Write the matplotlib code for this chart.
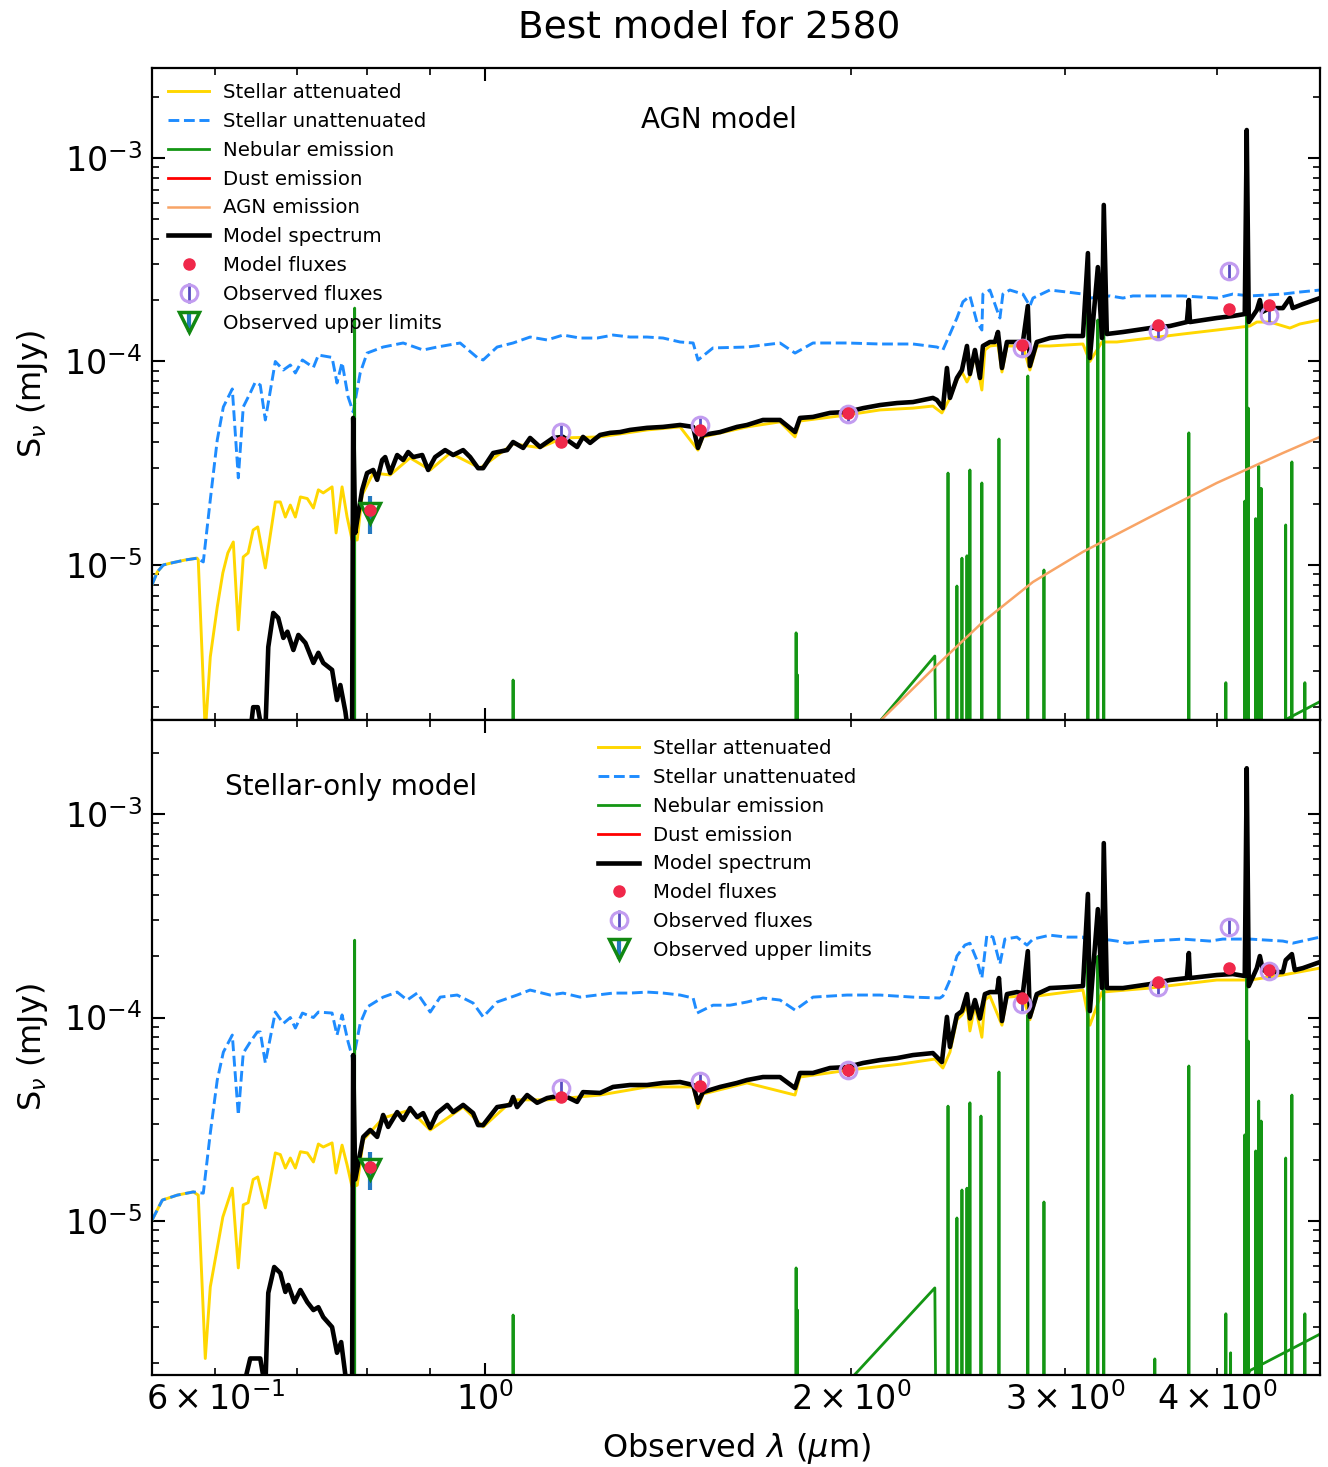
import matplotlib
matplotlib.use("Agg")
import matplotlib.pyplot as plt

plt.rcParams['font.family'] = ['DejaVu Sans']
plt.rcParams['mathtext.fontset'] = 'dejavusans'

TITLE = "Best model for 2580"
XLABEL = r"Observed $\lambda$ ($\mu$m)"
YLABEL = r"S$_{\nu}$ (mJy)"
PANEL_LABELS = ["AGN model", "Stellar-only model"]

# ---------------------------------------------------------------- data
# wavelengths in micron, fluxes in mJy

# ---- top panel (AGN model)
top_att_lam = [0.532, 0.5374, 0.5435, 0.5508, 0.5665, 0.5795, 0.5807, 0.5885, 0.5941, 0.602, 0.6084, 0.6142, 0.6206,
               0.6265, 0.6324, 0.6383, 0.6444, 0.65, 0.6594, 0.672, 0.6784, 0.6849, 0.6914, 0.698, 0.7047, 0.714, 0.7223,
               0.7291, 0.7359, 0.7483, 0.754, 0.7626, 0.7699, 0.7772, 0.7848, 0.7922, 0.8089, 0.8354, 0.8675, 0.9012,
               0.9359, 0.9906, 1.0544, 1.1096, 1.159, 1.2433, 1.359, 1.4467, 1.4966, 1.511, 1.6423, 1.7483, 1.7987,
               1.8155, 1.9851, 2.1131, 2.2491, 2.3356, 2.3758, 2.4123, 2.4444, 2.4678, 2.4913, 2.5053, 2.5293, 2.5627,
               2.5775, 2.6021, 2.6421, 2.6621, 2.6874, 2.7698, 2.8067, 2.8439, 2.9149, 3.1036, 3.1446, 3.2173, 3.3098,
               3.5237, 3.7497, 3.9994, 4.258, 4.3144, 4.4232, 4.5936, 4.6812, 4.8627]
top_att_flux = [7.98e-6, 9.24e-6, 1e-5, 1.02e-5, 1.058e-5, 1.08e-5, 1.06e-5, 1.5e-6, 3.53e-6, 6.22e-6, 9.14e-6, 1.146e-5,
                1.297e-5, 4.8e-6, 1.095e-5, 1.146e-5, 1.486e-5, 1.538e-5, 9.67e-6, 2.04e-5, 2.04e-5, 1.72e-5, 1.97e-5,
                1.72e-5, 2.16e-5, 2.12e-5, 1.905e-5, 2.34e-5, 2.26e-5, 2.42e-5, 1.437e-5, 2.42e-5, 1.72e-5, 1.327e-5,
                1.327e-5, 2.21e-5, 2.83e-5, 2.77e-5, 3.36e-5, 2.93e-5, 3.55e-5, 2.99e-5, 3.94e-5, 3.77e-5, 4.21e-5,
                4.26e-5, 4.61e-5, 4.77e-5, 3.67e-5, 4.26e-5, 4.77e-5, 5.05e-5, 4.26e-5, 5.1e-5, 5.46e-5, 5.78e-5, 5.9e-5,
                6.04e-5, 5.59e-5, 6.62e-5, 8.11e-5, 8.88e-5, 7.93e-5, 8.49e-5, 1.076e-4, 7.24e-5, 1.139e-4, 1.192e-4,
                1.205e-4, 8.88e-5, 1.192e-4, 1.192e-4, 9.08e-5, 1.192e-4, 1.192e-4, 1.219e-4, 1e-4, 1.247e-4, 1.247e-4,
                1.304e-4, 1.365e-4, 1.428e-4, 1.494e-4, 1.563e-4, 1.563e-4, 1.46e-4, 1.529e-4, 1.6e-4]

top_unatt_lam = [0.532, 0.5374, 0.5435, 0.5508, 0.5665, 0.5795, 0.5863, 0.5941, 0.602, 0.609, 0.6194, 0.6265, 0.6324,
                 0.6408, 0.647, 0.6531, 0.6594, 0.672, 0.6823, 0.6914, 0.698, 0.7074, 0.7223, 0.7291, 0.7483, 0.7553,
                 0.7626, 0.7714, 0.7788, 0.7892, 0.7996, 0.8243, 0.8562, 0.8892, 0.9131, 0.9537, 0.985, 0.9962, 1.023,
                 1.0544, 1.0889, 1.1246, 1.159, 1.1971, 1.2362, 1.2743, 1.3158, 1.359, 1.4009, 1.4467, 1.483, 1.4966,
                 1.5399, 1.6423, 1.7483, 1.7987, 1.8609, 1.9851, 2.1131, 2.2491, 2.3533, 2.3803, 2.4123, 2.4444, 2.4724,
                 2.5053, 2.5387, 2.5627, 2.5678, 2.6021, 2.6372, 2.6518, 2.6669, 2.7024, 2.7698, 2.8067, 2.8232, 2.9149,
                 3.0107, 3.1036, 3.1446, 3.2665, 3.3478, 3.4115, 3.7497, 3.9994, 4.1228, 4.258, 4.5327, 4.6812, 4.8627]
top_unatt_flux = [7.98e-6, 9.24e-6, 1e-5, 1.02e-5, 1.058e-5, 1.08e-5, 1.035e-5, 2.09e-5, 4.115e-5, 5.98e-5, 7.33e-5,
                  2.68e-5, 5.98e-5, 7e-5, 7.92e-5, 7.66e-5, 5.16e-5, 1e-4, 9.08e-5, 9.61e-5, 8.78e-5, 1.017e-4, 9.35e-5,
                  1.076e-4, 1.047e-4, 7.84e-5, 9.89e-5, 6.69e-5, 5.65e-5, 8.78e-5, 1.1e-4, 1.178e-4, 1.233e-4, 1.139e-4,
                  1.178e-4, 1.233e-4, 1.047e-4, 1.017e-4, 1.178e-4, 1.233e-4, 1.319e-4, 1.276e-4, 1.349e-4, 1.304e-4,
                  1.304e-4, 1.349e-4, 1.319e-4, 1.319e-4, 1.304e-4, 1.247e-4, 1.233e-4, 1.017e-4, 1.166e-4, 1.178e-4,
                  1.233e-4, 1.1e-4, 1.233e-4, 1.233e-4, 1.219e-4, 1.219e-4, 1.178e-4, 1.139e-4, 1.365e-4, 1.636e-4,
                  1.964e-4, 2.1e-4, 1.563e-4, 1.428e-4, 2.145e-4, 2.245e-4, 1.79e-4, 1.636e-4, 2.145e-4, 2.245e-4,
                  2.145e-4, 1.874e-4, 2.05e-4, 2.245e-4, 2.195e-4, 2.145e-4, 2.05e-4, 2.1e-4, 2.05e-4, 2.1e-4, 2.1e-4,
                  2.05e-4, 2.145e-4, 2.1e-4, 2.145e-4, 2.195e-4, 2.245e-4]

top_model_lam = [0.6408, 0.6444, 0.65, 0.6556, 0.6594, 0.6631, 0.6694, 0.6757, 0.6823, 0.6876, 0.6954, 0.702, 0.7114,
                 0.7223, 0.7291, 0.7359, 0.7483, 0.7553, 0.7601, 0.7674, 0.7714, 0.7772, 0.7788, 0.7818, 0.7848, 0.7922,
                 0.7996, 0.8089, 0.815, 0.8228, 0.8275, 0.8354, 0.8465, 0.8562, 0.8643, 0.8727, 0.8876, 0.8977, 0.9096,
                 0.927, 0.9412, 0.9592, 0.972, 0.9868, 0.9962, 1.0153, 1.0425, 1.0544, 1.0747, 1.0889, 1.1096, 1.1374,
                 1.159, 1.1903, 1.2037, 1.22, 1.2433, 1.2671, 1.2912, 1.3158, 1.359, 1.4009, 1.4467, 1.483, 1.4966,
                 1.511, 1.5607, 1.6115, 1.6423, 1.6927, 1.7483, 1.7987, 1.8155, 1.8609, 1.922, 1.9851, 2.0464, 2.1131,
                 2.1822, 2.2491, 2.3356, 2.3533, 2.3803, 2.3986, 2.4123, 2.4444, 2.4678, 2.4913, 2.5053, 2.5293, 2.5534,
                 2.5678, 2.6021, 2.627, 2.6421, 2.6621, 2.6874, 2.7384, 2.7698, 2.7958, 2.8067, 2.8439, 2.9149, 3.0107,
                 3.1036, 3.1329, 3.1446, 3.1924, 3.2173, 3.2285, 3.2471, 3.3478, 3.5237, 3.6595, 3.7787, 3.7931, 3.8013,
                 3.9994, 4.1228, 4.217, 4.2327, 4.2492, 4.3144, 4.3393, 4.356, 4.4232, 4.5327, 4.5936, 4.6178, 4.7082,
                 4.8627]
top_model_flux = [1.5e-6, 2e-6, 2e-6, 1.5e-6, 1.5e-6, 3.95e-6, 5.81e-6, 5.49e-6, 4.38e-6, 4.7e-6, 3.82e-6, 4.53e-6,
                  4.14e-6, 3.3e-6, 3.7e-6, 3.3e-6, 3.05e-6, 2.17e-6, 2.57e-6, 1.9e-6, 1.5e-6, 1.5e-6, 5.28e-5, 1.437e-5,
                  1.665e-5, 2.34e-5, 2.83e-5, 2.93e-5, 2.62e-5, 3.28e-5, 3.39e-5, 2.83e-5, 3.47e-5, 3.28e-5, 3.59e-5,
                  3.39e-5, 3.47e-5, 2.93e-5, 3.39e-5, 3.67e-5, 3.47e-5, 3.67e-5, 3.39e-5, 2.99e-5, 2.99e-5, 3.55e-5,
                  3.67e-5, 4.02e-5, 3.76e-5, 4.21e-5, 3.8e-5, 4.21e-5, 4.26e-5, 3.8e-5, 4.26e-5, 3.98e-5, 4.355e-5,
                  4.46e-5, 4.5e-5, 4.61e-5, 4.72e-5, 4.77e-5, 4.875e-5, 4.77e-5, 3.76e-5, 4.355e-5, 4.5e-5, 4.77e-5,
                  4.875e-5, 5.16e-5, 5.16e-5, 4.5e-5, 5.28e-5, 5.34e-5, 5.59e-5, 5.65e-5, 5.9e-5, 6.11e-5, 6.25e-5,
                  6.32e-5, 6.62e-5, 6.47e-5, 5.9e-5, 9.29e-5, 6.62e-5, 8.3e-5, 9.08e-5, 1.192e-4, 8.68e-5, 1.139e-4,
                  8.3e-5, 1.192e-4, 1.247e-4, 1.247e-4, 1.396e-4, 9.29e-5, 1.247e-4, 1.247e-4, 1.247e-4, 1.874e-4,
                  9.5e-5, 1.247e-4, 1.304e-4, 1.334e-4, 1.334e-4, 3.41e-4, 1.04e-4, 2.91e-4, 1.304e-4, 5.88e-4, 1.365e-4,
                  1.396e-4, 1.46e-4, 1.494e-4, 1.563e-4, 2.005e-4, 1.563e-4, 1.636e-4, 1.673e-4, 1.711e-4, 1.373e-3,
                  1.563e-4, 1.79e-4, 2.005e-4, 1.75e-4, 1.83e-4, 1.83e-4, 2.05e-4, 1.83e-4, 1.915e-4, 2.05e-4]

top_agn_lam = [2.0346, 2.1131, 2.3356, 2.5678, 2.8232, 3.1036, 3.5237, 3.9994, 4.5327, 4.8627]
top_agn_flux = [1.2e-6, 1.71e-6, 3.08e-6, 5.25e-6, 8.25e-6, 1.16e-5, 1.72e-5, 2.53e-5, 3.55e-5, 4.26e-5]

top_nebcont_lam = [2.0346, 2.1131, 2.3442, 2.3486, 4.45, 4.5327, 4.8627]
top_nebcont_flux = [1.3e-6, 1.71e-6, 3.57e-6, 1.2e-6, 1.2e-6, 1.71e-6, 2.13e-6]

top_line_lam = [0.781, 1.0544, 1.8024, 1.8075, 2.4035, 2.4444, 2.4678, 2.4913, 2.5053, 2.5627, 2.647, 2.7958, 2.8826,
                3.1329, 3.1924, 3.2285, 3.7931, 4.0686, 4.217, 4.2327, 4.2454, 4.3053, 4.3301, 4.35, 4.557, 4.6108,
                4.7256]
top_line_peak = [1.83e-4, 2.72e-6, 4.64e-6, 2.88e-6, 2.83e-5, 7.88e-6, 1.08e-5, 1.11e-5, 2.93e-5, 2.53e-5, 4.16e-5,
                 8.49e-5, 9.45e-6, 2.0e-4, 1.6e-4, 4.5e-4, 4.46e-5, 2.64e-6, 2.06e-5, 1.2e-3, 5.9e-5, 1.69e-5, 3.05e-5,
                 2.38e-5, 1.573e-5, 3.21e-5, 2.64e-6]

top_modflux = [1.865e-5, 4.02e-5, 4.61e-5, 5.59e-5, 1.205e-4, 1.511e-4, 1.81e-4, 1.896e-4]

# ---- bottom panel (stellar-only model)
bot_att_lam = [0.532, 0.5425, 0.558, 0.5753, 0.5807, 0.5885, 0.5941, 0.6084, 0.6194, 0.6265, 0.6324, 0.6383, 0.6444,
               0.65, 0.6594, 0.672, 0.6784, 0.6849, 0.6914, 0.698, 0.7047, 0.714, 0.7223, 0.7291, 0.7359, 0.7483, 0.754,
               0.7626, 0.7699, 0.7772, 0.7848, 0.7938, 0.8243, 0.8675, 0.9012, 0.9592, 0.9962, 1.0544, 1.1246, 1.2433,
               1.359, 1.483, 1.4966, 1.511, 1.6423, 1.7987, 1.8155, 1.9965, 2.1945, 2.3442, 2.3803, 2.4123, 2.4444,
               2.4678, 2.4913, 2.5053, 2.5293, 2.5627, 2.5775, 2.6021, 2.6621, 2.6874, 2.7698, 2.8067, 2.8439, 3.1036,
               3.1446, 3.2173, 3.5237, 3.9994, 4.258, 4.5327, 4.8627]
bot_att_flux = [1.01e-5, 1.267e-5, 1.34e-5, 1.39e-5, 1.34e-5, 2.11e-6, 4.74e-6, 1.046e-5, 1.45e-5, 5.88e-6, 1.2e-5,
                1.23e-5, 1.6e-5, 1.646e-5, 1.16e-5, 2.16e-5, 2.12e-5, 1.82e-5, 2.04e-5, 1.82e-5, 2.19e-5, 2.16e-5,
                1.95e-5, 2.39e-5, 2.31e-5, 2.42e-5, 1.72e-5, 2.36e-5, 1.885e-5, 1.47e-5, 1.5e-5, 2.5e-5, 3.21e-5,
                3.51e-5, 2.8e-5, 3.63e-5, 2.9e-5, 3.94e-5, 3.94e-5, 4.16e-5, 4.56e-5, 4.56e-5, 3.59e-5, 4.21e-5, 4.77e-5,
                4.16e-5, 5.1e-5, 5.53e-5, 5.9e-5, 6.25e-5, 5.65e-5, 6.76e-5, 9.75e-5, 1.03e-4, 1.15e-4, 8.59e-5, 1.15e-4,
                8.0e-5, 1.219e-4, 1.276e-4, 9.17e-5, 1.26e-4, 1.276e-4, 9.75e-5, 1.276e-4, 1.365e-4, 9.17e-5, 1.334e-4,
                1.396e-4, 1.529e-4, 1.529e-4, 1.618e-4, 1.75e-4]

bot_unatt_lam = [0.532, 0.5425, 0.558, 0.5753, 0.5863, 0.5941, 0.602, 0.609, 0.6194, 0.6265, 0.6324, 0.6408, 0.6494,
                 0.6531, 0.6594, 0.672, 0.6823, 0.6914, 0.698, 0.7074, 0.7223, 0.7291, 0.7483, 0.7553, 0.7626, 0.7714,
                 0.7788, 0.7892, 0.7996, 0.8243, 0.8465, 0.8627, 0.8792, 0.9012, 0.9184, 0.9484, 0.9775, 0.9962, 1.023,
                 1.0624, 1.0889, 1.131, 1.159, 1.1971, 1.2362, 1.2743, 1.3158, 1.359, 1.4009, 1.4467, 1.483, 1.494,
                 1.5399, 1.5905, 1.6423, 1.6927, 1.7483, 1.7987, 1.8609, 1.9851, 2.1131, 2.2491, 2.367, 2.3803, 2.4123,
                 2.4444, 2.4816, 2.5053, 2.5387, 2.5627, 2.5871, 2.6169, 2.6518, 2.677, 2.7384, 2.7912, 2.8232, 2.9149,
                 3.0107, 3.1036, 3.1446, 3.2234, 3.3098, 3.3729, 3.5237, 3.7497, 3.9465, 4.0453, 4.258, 4.5327, 4.6178,
                 4.8627]
bot_unatt_flux = [1.01e-5, 1.267e-5, 1.34e-5, 1.39e-5, 1.37e-5, 2.7e-5, 4.93e-5, 6.76e-5, 8.2e-5, 3.32e-5, 6.69e-5,
                  7.58e-5, 8.49e-5, 8.49e-5, 5.98e-5, 1.064e-4, 9.35e-5, 1e-4, 8.88e-5, 1.052e-4, 1e-4, 1.064e-4,
                  1.052e-4, 8.2e-5, 1.03e-4, 7.58e-5, 6.18e-5, 9.35e-5, 1.126e-4, 1.26e-4, 1.334e-4, 1.219e-4, 1.319e-4,
                  1.064e-4, 1.26e-4, 1.29e-4, 1.178e-4, 1.007e-4, 1.192e-4, 1.29e-4, 1.365e-4, 1.29e-4, 1.319e-4,
                  1.26e-4, 1.29e-4, 1.319e-4, 1.319e-4, 1.334e-4, 1.319e-4, 1.29e-4, 1.247e-4, 1.052e-4, 1.15e-4,
                  1.15e-4, 1.192e-4, 1.247e-4, 1.219e-4, 1.088e-4, 1.26e-4, 1.29e-4, 1.29e-4, 1.26e-4, 1.247e-4,
                  1.276e-4, 1.529e-4, 2.005e-4, 2.27e-4, 2.32e-4, 1.915e-4, 1.563e-4, 2.54e-4, 2.485e-4, 1.83e-4,
                  2.43e-4, 2.485e-4, 2.27e-4, 2.43e-4, 2.54e-4, 2.485e-4, 2.485e-4, 2.27e-4, 2.43e-4, 2.376e-4, 2.32e-4,
                  2.376e-4, 2.43e-4, 2.376e-4, 2.43e-4, 2.43e-4, 2.376e-4, 2.32e-4, 2.485e-4]

bot_model_lam = [0.6265, 0.6408, 0.647, 0.6531, 0.6594, 0.6631, 0.6706, 0.6784, 0.6849, 0.6887, 0.6967, 0.7047, 0.714,
                 0.7223, 0.7291, 0.7359, 0.7483, 0.7553, 0.7613, 0.7699, 0.7772, 0.7788, 0.7818, 0.7938, 0.8044, 0.815,
                 0.8243, 0.8322, 0.8465, 0.8562, 0.8675, 0.8792, 0.8892, 0.9012, 0.9131, 0.9307, 0.9412, 0.9592, 0.9775,
                 0.9868, 0.9962, 1.023, 1.0485, 1.0544, 1.0624, 1.0828, 1.1035, 1.1246, 1.159, 1.1903, 1.2037, 1.2433,
                 1.2743, 1.3158, 1.359, 1.4009, 1.4467, 1.483, 1.4966, 1.511, 1.5607, 1.6115, 1.6423, 1.6927, 1.7483,
                 1.7987, 1.8155, 1.8609, 1.922, 1.9851, 2.0464, 2.1131, 2.1822, 2.2491, 2.3356, 2.3758, 2.3986, 2.4123,
                 2.4444, 2.4678, 2.4913, 2.5053, 2.5293, 2.5534, 2.5775, 2.6021, 2.6372, 2.647, 2.6621, 2.6874, 2.7384,
                 2.7698, 2.7958, 2.8067, 2.8439, 2.9149, 3.0107, 3.1036, 3.1329, 3.1446, 3.1924, 3.2173, 3.2285, 3.2471,
                 3.3478, 3.5237, 3.6595, 3.7787, 3.7931, 3.8013, 3.9994, 4.1228, 4.217, 4.2327, 4.2492, 4.3144, 4.3393,
                 4.364, 4.4232, 4.5327, 4.557, 4.6108, 4.636, 4.7082, 4.8627]
bot_model_flux = [1.2e-6, 2.11e-6, 2.11e-6, 2.11e-6, 1.5e-6, 4.43e-6, 5.94e-6, 5.55e-6, 4.48e-6, 4.85e-6, 3.99e-6,
                  4.58e-6, 3.99e-6, 3.65e-6, 3.77e-6, 3.37e-6, 3.01e-6, 2.25e-6, 2.54e-6, 1.5e-6, 1.5e-6, 6.54e-5, 1.6e-5,
                  2.59e-5, 2.8e-5, 2.59e-5, 3.32e-5, 2.9e-5, 3.43e-5, 3.14e-5, 3.59e-5, 3.24e-5, 3.39e-5, 2.87e-5,
                  3.39e-5, 3.72e-5, 3.43e-5, 3.72e-5, 3.39e-5, 2.96e-5, 2.96e-5, 3.63e-5, 3.72e-5, 4.07e-5, 3.63e-5,
                  4.16e-5, 3.81e-5, 4.02e-5, 4.16e-5, 3.85e-5, 4.3e-5, 4.26e-5, 4.56e-5, 4.66e-5, 4.66e-5, 4.77e-5,
                  4.82e-5, 4.66e-5, 3.81e-5, 4.3e-5, 4.56e-5, 4.77e-5, 4.93e-5, 5.1e-5, 5.1e-5, 4.5e-5, 5.34e-5, 5.34e-5,
                  5.65e-5, 5.71e-5, 5.98e-5, 6.18e-5, 6.32e-5, 6.54e-5, 6.69e-5, 6.04e-5, 1.007e-4, 7.17e-5, 1.03e-4,
                  1.076e-4, 1.304e-4, 9.89e-5, 1.219e-4, 9.89e-5, 1.304e-4, 1.334e-4, 1.334e-4, 1.563e-4, 9.61e-5,
                  1.304e-4, 1.334e-4, 1.319e-4, 2.12e-4, 1.007e-4, 1.304e-4, 1.396e-4, 1.41e-4, 1.428e-4, 4.05e-4,
                  1.076e-4, 3.41e-4, 1.396e-4, 7.2e-4, 1.396e-4, 1.396e-4, 1.46e-4, 1.529e-4, 1.563e-4, 2.075e-4,
                  1.563e-4, 1.618e-4, 1.636e-4, 1.6e-4, 1.68e-3, 1.428e-4, 1.75e-4, 2.005e-4, 1.711e-4, 1.673e-4,
                  1.673e-4, 1.915e-4, 2.05e-4, 1.711e-4, 1.75e-4, 1.874e-4]

bot_nebcont_lam = [1.9965, 2.3442, 2.3486, 4.2, 4.258, 4.8627]
bot_nebcont_flux = [1.66e-6, 4.69e-6, 1.2e-6, 1.5e-6, 1.84e-6, 2.78e-6]

bot_line_lam = [0.781, 1.0544, 1.8024, 1.8075, 2.4035, 2.4444, 2.4678, 2.4913, 2.5053, 2.5583, 2.647, 2.7958, 2.8826,
                3.1329, 3.1924, 3.2285, 3.5563, 3.7931, 4.0686, 4.1055, 4.217, 4.2327, 4.2454, 4.3053, 4.3301, 4.35,
                4.557, 4.6108, 4.7256]
bot_line_peak = [2.4e-4, 3.45e-6, 5.88e-6, 3.65e-6, 3.67e-5, 1.035e-5, 1.42e-5, 1.45e-5, 3.81e-5, 3.28e-5, 5.4e-5,
                 1.03e-4, 1.24e-5, 2.6e-4, 2.0e-4, 5.8e-4, 2.1e-6, 5.78e-5, 3.5e-6, 2.25e-6, 2.65e-5, 1.5e-3, 7.66e-5,
                 2.21e-5, 3.89e-5, 3.1e-5, 2.04e-5, 4.16e-5, 3.5e-6]

bot_modflux = [1.84e-5, 4.07e-5, 4.61e-5, 5.53e-5, 1.25e-4, 1.49e-4, 1.75e-4, 1.71e-4]

# ---- photometry (same observations in both panels)
filt_lam = [0.8044, 1.1548, 1.5025, 1.9888, 2.7647, 3.5772, 4.0921, 4.4134]
obs_lam = [1.1548, 1.5025, 1.9888, 2.7647, 3.5772, 4.0921, 4.4134]
obs_flux = [4.5e-5, 4.875e-5, 5.53e-5, 1.165e-4, 1.41e-4, 2.786e-4, 1.693e-4]
obs_err = [3.5e-6, 3.8e-6, 4.3e-6, 9e-6, 1.1e-5, 2.2e-5, 1.3e-5]
ul_lam = [0.8044]
ul_flux = [1.8e-5]
ul_err = [3.8e-6]

# ---------------------------------------------------------------- style
C_ATT = '#FFD700'
C_UNATT = '#1E8CFF'
C_NEB = '#149614'
C_DUST = '#FF0000'
C_AGN = '#F8A466'
C_MOD = 'black'
C_MODFLUX = '#F0284A'
C_OBS = '#C29CF0'
C_OBS_ERR = '#5A4EC2'
C_UL = '#118811'
C_UL_ERR = '#2479C0'

XLIM = (0.532, 4.863)
YLIM_TOP = (1.73e-6, 2.77e-3)
YLIM_BOT = (1.75e-6, 2.9e-3)


def line_spectrum(centers, peaks, floor=1e-7, hw=2.5e-4):
    lam, flux = [], []
    for c, p in zip(centers, peaks):
        lam += [c * (1 - hw), c, c * (1 + hw)]
        flux += [floor, p, floor]
    return lam, flux


def draw_panel(ax, att, unatt, nebcont, lines, model, modflux, agn=None):
    ax.set_xscale('log')
    ax.set_yscale('log')
    h = {}
    h['att'], = ax.plot(att[0], att[1], color=C_ATT, lw=2.1, label='Stellar attenuated')
    h['unatt'], = ax.plot(unatt[0], unatt[1], color=C_UNATT, lw=2.1, ls='--', label='Stellar unattenuated')
    llam, lflux = line_spectrum(*lines)
    h['neb'], = ax.plot(llam, lflux, color=C_NEB, lw=2.0, label='Nebular emission')
    ax.plot(nebcont[0], nebcont[1], color=C_NEB, lw=2.0, label='_nolegend_')
    h['dust'], = ax.plot([], [], color=C_DUST, lw=2.0, label='Dust emission')
    if agn is not None:
        h['agn'], = ax.plot(agn[0], agn[1], color=C_AGN, lw=1.8, label='AGN emission')
    h['mod'], = ax.plot(model[0], model[1], color=C_MOD, lw=3.3, label='Model spectrum')
    h['ul'] = ax.errorbar(ul_lam, ul_flux, yerr=ul_err, ls='', marker='v', mfc='none', mec=C_UL, ms=15, mew=2.5,
                          ecolor=C_UL_ERR, elinewidth=3, capsize=0, label='Observed upper limits', zorder=4)
    h['obs'] = ax.errorbar(obs_lam, obs_flux, yerr=obs_err, ls='', marker='o', mfc='none', mec=C_OBS, ms=12, mew=2.2,
                           ecolor=C_OBS_ERR, elinewidth=2, capsize=0, label='Observed fluxes', zorder=4)
    h['mf'], = ax.plot(filt_lam, modflux, ls='', marker='o', color=C_MODFLUX, ms=8, label='Model fluxes', zorder=5)
    ax.set_xlim(*XLIM)
    ax.tick_params(which='both', direction='in', top=True, right=True, labelsize=24)
    ax.tick_params(which='major', length=9, width=1.5)
    ax.tick_params(which='minor', length=5, width=1.2)
    ax.tick_params(axis='y', which='both', pad=7)
    ax.tick_params(axis='x', which='both', pad=5)
    for s in ax.spines.values():
        s.set_linewidth(1.6)
    ax.set_ylabel(YLABEL, fontsize=23, labelpad=10)
    order = ['att', 'unatt', 'neb', 'dust'] + (['agn'] if agn is not None else []) + ['mod', 'mf', 'obs', 'ul']
    handles = [h[k] for k in order]
    labels = [hh.get_label() for hh in handles]
    return handles, labels


fig = plt.figure(figsize=(13.28, 14.67), dpi=100)
ax1 = fig.add_axes([0.11446, 0.50920, 0.87952, 0.44445])
ax2 = fig.add_axes([0.11446, 0.06271, 0.87952, 0.44649], sharex=ax1)

h1, l1 = draw_panel(ax1, (top_att_lam, top_att_flux), (top_unatt_lam, top_unatt_flux),
                    (top_nebcont_lam, top_nebcont_flux), (top_line_lam, top_line_peak),
                    (top_model_lam, top_model_flux), top_modflux, agn=(top_agn_lam, top_agn_flux))
h2, l2 = draw_panel(ax2, (bot_att_lam, bot_att_flux), (bot_unatt_lam, bot_unatt_flux),
                    (bot_nebcont_lam, bot_nebcont_flux), (bot_line_lam, bot_line_peak),
                    (bot_model_lam, bot_model_flux), bot_modflux)
ax1.set_ylim(*YLIM_TOP)
ax2.set_ylim(*YLIM_BOT)
ax1.tick_params(axis='x', which='both', labelbottom=False)
ax2.set_xlabel(XLABEL, fontsize=23, labelpad=10)

leg_kw = dict(frameon=False, fontsize=14.2, labelspacing=0.5, handlelength=2.1, handletextpad=0.7,
              borderaxespad=0, borderpad=0, loc='upper left', numpoints=1)
ax1.legend(h1, l1, bbox_to_anchor=(0.0137, 0.977), **leg_kw)
ax2.legend(h2, l2, bbox_to_anchor=(0.3818, 0.971), **leg_kw)

ax1.text(0.4854, 0.920, PANEL_LABELS[0], transform=ax1.transAxes, ha='center', va='center', fontsize=20)
ax2.text(0.170, 0.898, PANEL_LABELS[1], transform=ax2.transAxes, ha='center', va='center', fontsize=20)

fig.text(0.534, 0.981, TITLE, ha='center', va='center', fontsize=27)

fig.savefig('out.png', dpi=100)
